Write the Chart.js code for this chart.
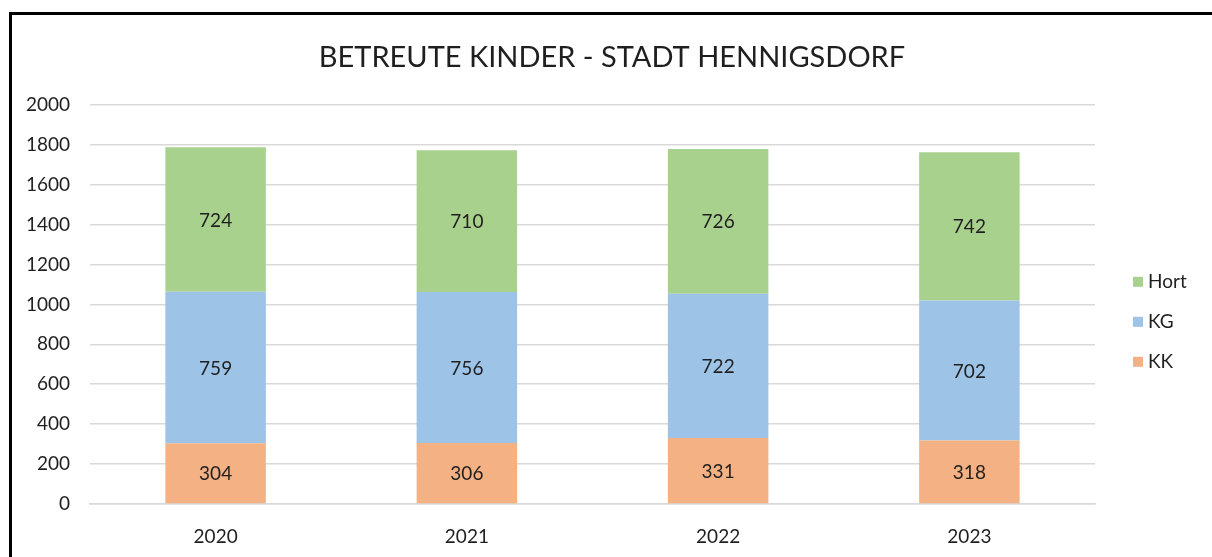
<!DOCTYPE html>
<html lang="de">
<head>
  <meta charset="UTF-8">
  <title>Betreute Kinder - Stadt Hennigsdorf</title>
  <script src="https://cdn.jsdelivr.net/npm/chart.js"></script>
  <style>
    html, body { margin: 0; padding: 0; background: #fff; overflow: hidden; }
    .frame { position: absolute; left: 9px; top: 12px; width: 1260px; height: 600px; border-left: 3px solid #000; border-top: 3px solid #000; }
    .wrap { position: absolute; left: 0; top: 0; width: 1212px; height: 557px; }
    canvas { display: block; }
  </style>
</head>
<body>
  <div class="frame"></div>
  <div class="wrap"><canvas id="kinderChart" width="1212" height="557"></canvas></div>

  <script>
    const years = ['2020', '2021', '2022', '2023'];
    const kk = [304, 306, 331, 318];
    const kg = [759, 756, 722, 702];
    const hort = [724, 710, 726, 742];
    const yTicks = [0, 200, 400, 600, 800, 1000, 1200, 1400, 1600, 1800, 2000];

    const textColor = '#1f1f1f';
    const fontFamily = 'Lato, "Open Sans", sans-serif';

    // values written into the middle of every bar segment
    const barLabels = {
      id: 'barLabels',
      afterDatasetsDraw(chart) {
        const ctx = chart.ctx;
        ctx.save();
        ctx.font = '19px ' + fontFamily;
        ctx.fillStyle = textColor;
        ctx.textAlign = 'center';
        ctx.textBaseline = 'middle';
        chart.data.datasets.forEach((ds, i) => {
          chart.getDatasetMeta(i).data.forEach((bar, j) => {
            const y = (bar.y + bar.base) / 2 + 1;
            ctx.fillText(ds.data[j], bar.x, y);
          });
        });
        ctx.restore();
      }
    };

    // vertical legend to the right, Hort on top
    const sideLegend = {
      id: 'sideLegend',
      afterDraw(chart) {
        const ctx = chart.ctx;
        const area = chart.chartArea;
        const items = chart.data.datasets.slice().reverse();
        ctx.save();
        ctx.font = '19px ' + fontFamily;
        ctx.textBaseline = 'middle';
        items.forEach((ds, i) => {
          const y = area.top + 177 + i * 40;
          const x = area.right + 38;
          ctx.fillStyle = ds.backgroundColor;
          ctx.fillRect(x, y - 5, 10, 10);
          ctx.fillStyle = textColor;
          ctx.fillText(ds.label, x + 15, y);
        });
        ctx.restore();
      }
    };

    new Chart(document.getElementById('kinderChart').getContext('2d'), {
      type: 'bar',
      data: {
        labels: years,
        datasets: [
          { label: 'KK', data: kk, backgroundColor: '#f4b183' },
          { label: 'KG', data: kg, backgroundColor: '#9dc3e6' },
          { label: 'Hort', data: hort, backgroundColor: '#a9d18e' }
        ]
      },
      options: {
        responsive: false,
        animation: false,
        layout: { padding: { left: 12, right: 0, top: 0, bottom: 9 } },
        categoryPercentage: 1,
        barPercentage: 0.4,
        scales: {
          x: {
            stacked: true,
            afterFit: scale => { scale.height = 44; },
            grid: { display: false, drawTicks: false },
            border: { display: true, color: '#d9d9d9', width: 1.5 },
            ticks: { color: textColor, font: { size: 19, family: fontFamily }, padding: 21 }
          },
          y: {
            stacked: true,
            min: 0,
            max: 2000,
            afterBuildTicks: scale => { scale.ticks = yTicks.map(v => ({ value: v })); },
            afterFit: scale => { scale.width = 78; },
            grid: { color: '#d9d9d9', lineWidth: 1.5, drawTicks: false },
            border: { display: false },
            ticks: { color: textColor, font: { size: 19, family: fontFamily }, padding: 20, callback: v => String(v) }
          },
          // empty right axis, keeps room for the legend
          legendRoom: {
            type: 'linear',
            position: 'right',
            afterFit: scale => { scale.width = 117; },
            grid: { display: false, drawTicks: false },
            border: { display: false },
            ticks: { display: false }
          }
        },
        plugins: {
          legend: { display: false },
          tooltip: { enabled: false },
          title: {
            display: true,
            text: 'BETREUTE KINDER - STADT HENNIGSDORF',
            color: textColor,
            font: { size: 29, weight: 'normal', family: fontFamily, lineHeight: 1.2 },
            padding: { top: 40, bottom: 30 }
          }
        }
      },
      plugins: [barLabels, sideLegend]
    });
  </script>
</body>
</html>
